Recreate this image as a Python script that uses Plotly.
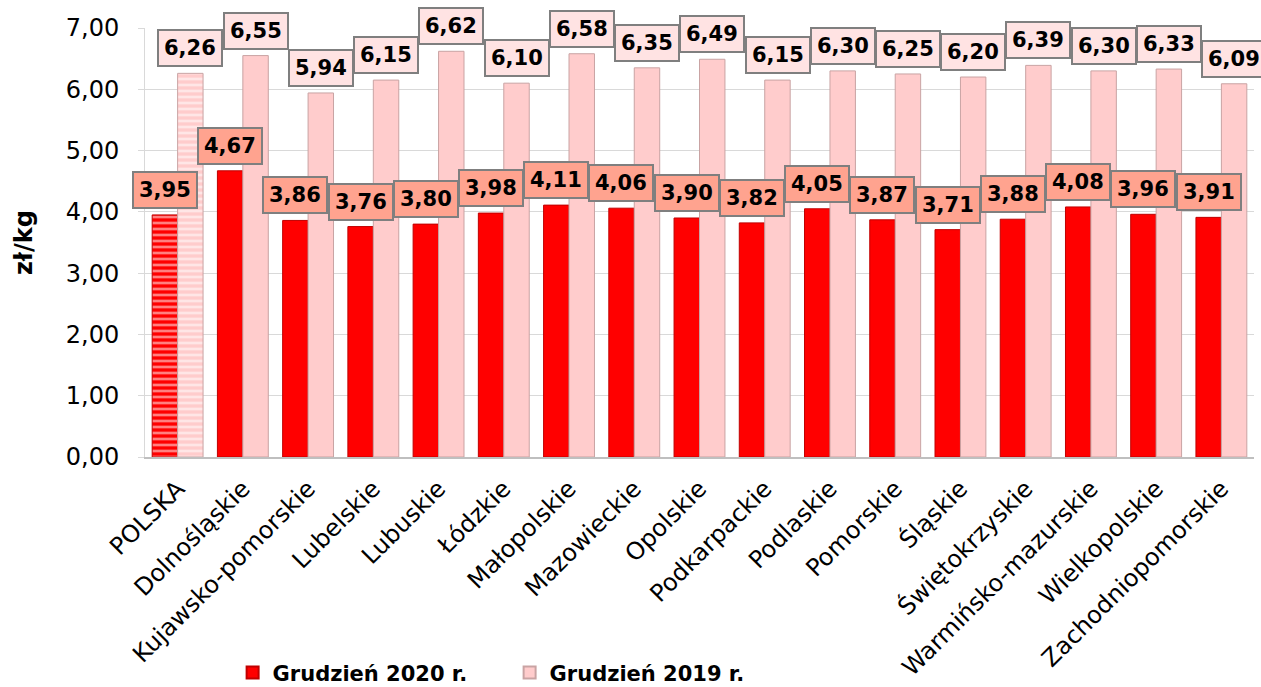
import plotly.graph_objects as go

categories = ["POLSKA", "Dolnośląskie", "Kujawsko-pomorskie", "Lubelskie", "Lubuskie",
              "Łódzkie", "Małopolskie", "Mazowieckie", "Opolskie", "Podkarpackie",
              "Podlaskie", "Pomorskie", "Śląskie", "Świętokrzyskie", "Warmińsko-mazurskie",
              "Wielkopolskie", "Zachodniopomorskie"]
dec2020 = [3.95, 4.67, 3.86, 3.76, 3.80, 3.98, 4.11, 4.06, 3.90, 3.82, 4.05, 3.87, 3.71,
           3.88, 4.08, 3.96, 3.91]
dec2019 = [6.26, 6.55, 5.94, 6.15, 6.62, 6.10, 6.58, 6.35, 6.49, 6.15, 6.30, 6.25, 6.20,
           6.39, 6.30, 6.33, 6.09]
series_names = ["Grudzień 2020 r.", "Grudzień 2019 r."]
y_ticks = [0, 1, 2, 3, 4, 5, 6, 7]

RED = "#FF0000"
RED_EDGE = "#C00000"
PINK = "#FFCCCC"
PINK_EDGE = "#C9A3A3"
LBL_RED = "#FFA38F"
LBL_PINK = "#FFE3E3"

FONT = "DejaVu Sans"

fig = go.Figure()

# POLSKA bars (striped)
fig.add_trace(go.Bar(
    x=categories[:1], y=dec2020[:1], offsetgroup="a", showlegend=False,
    marker=dict(color=RED, line=dict(color=RED_EDGE, width=1),
                pattern=dict(shape="-", fgcolor="white", fillmode="overlay",
                             size=6, solidity=0.45)),
    hoverinfo="skip"))
fig.add_trace(go.Bar(
    x=categories[:1], y=dec2019[:1], offsetgroup="b", showlegend=False,
    marker=dict(color=PINK, line=dict(color=PINK_EDGE, width=1),
                pattern=dict(shape="-", fgcolor="white", fillmode="overlay",
                             size=6, solidity=0.45)),
    hoverinfo="skip"))
# regional bars
fig.add_trace(go.Bar(
    x=categories[1:], y=dec2020[1:], offsetgroup="a", name="<b>" + series_names[0] + "</b>",
    marker=dict(color=RED, line=dict(color=RED_EDGE, width=1))))
fig.add_trace(go.Bar(
    x=categories[1:], y=dec2019[1:], offsetgroup="b", name="<b>" + series_names[1] + "</b>",
    marker=dict(color=PINK, line=dict(color=PINK_EDGE, width=1))))

# data label boxes
BAR_OFF = 12.8
for c, v1, v2 in zip(categories, dec2020, dec2019):
    for v, xs, bg in ((v1, -BAR_OFF, LBL_RED), (v2, BAR_OFF, LBL_PINK)):
        fig.add_annotation(
            x=c, y=v, xref="x", yref="y", xshift=xs, yshift=25,
            text="<b>" + f"{v:.2f}".replace(".", ",") + "</b>",
            showarrow=False, font=dict(family=FONT, size=21, color="black"),
            bgcolor=bg, bordercolor="#7F7F7F", borderwidth=2, borderpad=5)

fig.update_layout(
    width=1261, height=687,
    margin=dict(l=145, r=7, t=28, b=230, autoexpand=False),
    paper_bgcolor="white", plot_bgcolor="white",
    barmode="group", bargap=0.22, bargroupgap=0,
    separators=", ",
    font=dict(family=FONT, color="black"),
    showlegend=True,
    legend=dict(orientation="h", x=0.079, xanchor="left",
                y=-0.503, yanchor="middle",
                font=dict(family=FONT, size=21, color="black"),
                entrywidth=232, entrywidthmode="pixels",
                itemsizing="constant", traceorder="normal"),
)
fig.update_yaxes(
    range=[0, 7], tickvals=y_ticks, tickformat=".2f",
    showgrid=True, gridcolor="#D9D9D9", gridwidth=1,
    showline=True, linecolor="#D9D9D9", linewidth=1,
    ticks="outside", ticklen=6, tickcolor="#D9D9D9",
    ticklabelstandoff=14,
    tickfont=dict(family=FONT, size=24, color="black"),
    title=dict(text="<b>zł/kg</b>", font=dict(family=FONT, size=24, color="black"),
               standoff=26),
    zeroline=False)
fig.update_xaxes(
    type="category", categoryorder="array", categoryarray=categories,
    range=[-0.5, len(categories) - 0.5],
    tickangle=-45, showline=True, linecolor="#BFBFBF", linewidth=2,
    ticks="", ticklabelstandoff=6,
    tickfont=dict(family=FONT, size=24, color="black"))

fig.write_html("out.html", config={"displayModeBar": False},
               post_script="document.body.style.margin='0';")
